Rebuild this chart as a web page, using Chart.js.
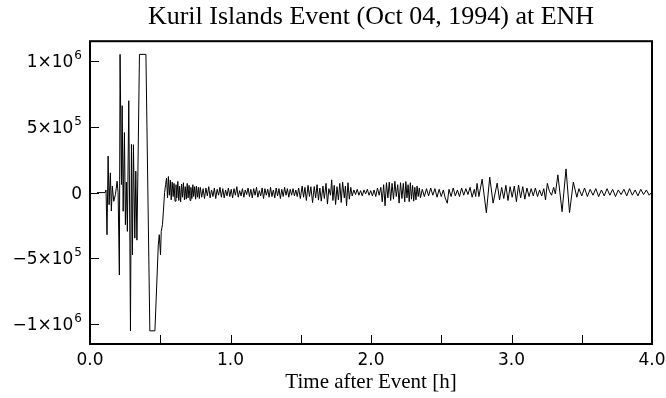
<!DOCTYPE html>
<html>
<head>
<meta charset="utf-8">
<script src="https://cdn.jsdelivr.net/npm/chart.js@4.4.1/dist/chart.umd.min.js"></script>
<style>
  html, body { margin: 0; padding: 0; background: #fff; }
  #seismo { display: block; }
</style>
</head>
<body>
<canvas id="seismo" width="666" height="398"></canvas>
<script>
// time after event in hours (peaks / troughs)
const hours = [
    0.050, 0.107, 0.114, 0.121, 0.129, 0.136, 0.145, 0.152, 0.159, 0.169,
    0.181, 0.193, 0.200, 0.209, 0.214, 0.224, 0.229, 0.236, 0.245, 0.252,
    0.259, 0.266, 0.276, 0.284, 0.288, 0.295, 0.302, 0.309, 0.319, 0.326,
    0.334, 0.341, 0.352, 0.398, 0.426, 0.462, 0.486, 0.493, 0.502, 0.507,
    0.516, 0.531, 0.538,
    0.545, 0.552, 0.558, 0.565, 0.572, 0.578, 0.585, 0.592, 0.598, 0.605,
    0.612, 0.618, 0.625, 0.632, 0.638, 0.645, 0.652, 0.658, 0.665, 0.672,
    0.678, 0.685, 0.692, 0.698, 0.705, 0.712, 0.718, 0.725, 0.732, 0.738,
    0.745, 0.752, 0.758, 0.765, 0.772, 0.778,
    0.785, 0.795, 0.805, 0.815, 0.825, 0.835, 0.845, 0.855, 0.865, 0.875,
    0.885, 0.895, 0.905, 0.915, 0.925, 0.935, 0.945, 0.955, 0.965, 0.975,
    0.985, 0.995, 1.005, 1.015, 1.025, 1.035, 1.045, 1.055, 1.065, 1.075,
    1.085, 1.095, 1.105, 1.115, 1.125, 1.135, 1.145, 1.155, 1.165, 1.175,
    1.185, 1.195, 1.205, 1.215, 1.225, 1.235, 1.245, 1.255, 1.265, 1.275,
    1.285, 1.295, 1.305, 1.315, 1.325, 1.335, 1.345, 1.355, 1.365, 1.375,
    1.385, 1.395, 1.405, 1.415,
    1.425, 1.435, 1.445, 1.455, 1.465, 1.475, 1.485, 1.497, 1.510, 1.520,
    1.530, 1.540, 1.552, 1.562, 1.572, 1.584, 1.596, 1.606, 1.616, 1.626,
    1.636, 1.646, 1.658, 1.668, 1.680, 1.690, 1.700, 1.712, 1.720,
    1.729, 1.738, 1.748, 1.758, 1.768, 1.778, 1.788, 1.798, 1.810, 1.818,
    1.826, 1.836, 1.846, 1.856,
    1.866, 1.878, 1.890, 1.902, 1.914, 1.926, 1.938, 1.950, 1.962, 1.974,
    1.986, 1.998, 2.010, 2.022, 2.034, 2.046, 2.058, 2.070,
    2.080, 2.090, 2.100, 2.110, 2.120, 2.130, 2.140, 2.150, 2.160, 2.170,
    2.180, 2.190, 2.200, 2.210, 2.220, 2.230,
    2.240, 2.248, 2.256, 2.264, 2.272, 2.280, 2.288, 2.296, 2.304, 2.312,
    2.320, 2.328, 2.336, 2.344, 2.352,
    2.365, 2.380, 2.395, 2.410, 2.425, 2.440, 2.455, 2.470, 2.485, 2.500,
    2.515, 2.528, 2.543, 2.555, 2.570, 2.585, 2.600, 2.615, 2.630, 2.645,
    2.660, 2.675, 2.690, 2.705, 2.720, 2.735, 2.745, 2.755, 2.768,
    2.791, 2.821, 2.845, 2.869, 2.898, 2.915, 2.930, 2.945, 2.960, 2.975,
    2.990, 3.005, 3.020, 3.035, 3.050, 3.065, 3.080, 3.095, 3.110, 3.125,
    3.140, 3.155, 3.170, 3.185, 3.200, 3.215, 3.230, 3.242,
    3.255, 3.270, 3.285, 3.300, 3.312, 3.330, 3.360, 3.388, 3.413, 3.440,
    3.465,
    3.480, 3.500, 3.520, 3.540, 3.560, 3.580, 3.600, 3.620, 3.640, 3.660,
    3.680, 3.700, 3.720, 3.740, 3.760, 3.780, 3.800, 3.820, 3.840, 3.860,
    3.880, 3.900, 3.920, 3.940, 3.960, 3.980, 4.000
];

// ground motion counts, in thousands (the trace is clipped near +-1.05e6)
const countsK = [
    0, 0, 20, -320, 278, -92, 150, -140, 49, -66,
    -15, 87, 0, -626, 1050, 61, 660, -142, 456, -244,
    80, -295, 698, -397, -1050, 366, -473, 364, -346, 163,
    -361, 163, 1050, 1050, -1050, -1050, -397, -320, -473, -295,
    -244, 0, 60,
    110, -40, 122, -20, 95, -55, 80, -30, 70, -65,
    60, -40, 85, -60, 50, -70, 65, -35, 75, -55,
    45, -50, 70, -40, 55, -60, 40, -45, 60, -30,
    45, -50, 50, -35, 40, -45,
    40, -35, 30, -45, 35, -25, 45, -40, 20, -30,
    35, -45, 25, -20, 40, -35, 30, -40, 20, -25,
    35, -30, 25, -40, 30, -20, 45, -35, 15, -25,
    30, -35, 20, -15, 35, -30, 25, -40, 30, -20,
    40, -35, 15, -25, 35, -45, 30, -20, 25, -35,
    40, -30, 20, -40, 35, -25, 30, -45, 25, -30,
    40, -20, 30, -35,
    25, -20, 30, -25, 20, -30, 35, -45, 50, -35,
    40, -60, 55, -30, 45, -76, 46, -40, 60, -57,
    35, -65, 50, -45, 70, -87, 30, -20, 97,
    -60, 55, -90, 45, -55, 70, -75, 80, -40, 50,
    -100, 75, -50, 40,
    -25, 20, -15, 25, -20, 15, -25, 20, -10, 25,
    -20, 15, -25, 20, -30, 35, -20, 40,
    -70, 60, -100, 75, -40, 80, -60, 70, -50, 86,
    -30, 60, -80, 75, -45, 70,
    -70, 84, -40, 60, -69, 75, -50, 55, -65, 40,
    -55, 50, -30, 35, -40,
    25, -30, 30, -25, 35, -20, 30, -35, 25, -30,
    20, -40, -81, 25, -30, 35, -25, 20, -30, 35,
    -20, 30, -15, 40, -35, 25, -30, 70, -30,
    102, -153, 118, -80, 72, -56, 40, -45, 55, -60,
    45, -35, 50, -69, 58, -40, 45, -50, 35, -30,
    30, -25, 35, -30, 20, -25, 30, -56,
    70, 10, -20, 40, -10, 135, -145, 180, -152, 80,
    -35,
    30, -25, 35, -30, 25, -20, 30, -30, 20, -25,
    30, -20, 25, -30, 20, -15, 25, -25, 30, -20,
    20, -25, 25, -15, 20, -20, 5
];

const xTickValues = [0, 0.5, 1, 1.5, 2, 2.5, 3, 3.5, 4];
const yTickValues = [-1000, -500, 0, 500, 1000];
// y labels are mantissa "x10" plus a raised exponent
const yTickBase = ['\u22121\u00d710', '\u22125\u00d710', '0', '5\u00d710', '1\u00d710'];
const yTickExp = ['6', '5', '', '5', '6'];

const points = hours.map((h, i) => ({ x: h, y: countsK[i] }));

const labelFont = 'DejaVu Sans';

// frame around the plot, inward tick marks and the y labels with exponents
const frameTicks = {
    id: 'frameTicks',
    afterDraw(chart) {
        const { ctx, chartArea: a, scales } = chart;
        ctx.save();
        ctx.strokeStyle = '#000';
        ctx.lineWidth = 1;
        ctx.beginPath();
        scales.x.ticks.forEach(t => {
            const px = Math.round(scales.x.getPixelForValue(t.value)) + 0.5;
            ctx.moveTo(px, a.bottom);
            ctx.lineTo(px, a.bottom - 9);
        });
        scales.y.ticks.forEach(t => {
            const py = Math.round(scales.y.getPixelForValue(t.value)) + 0.5;
            ctx.moveTo(a.left, py);
            ctx.lineTo(a.left + 9, py);
        });
        ctx.stroke();
        ctx.lineWidth = 2;
        ctx.strokeRect(a.left, a.top, a.right - a.left, a.bottom - a.top);

        ctx.fillStyle = '#000';
        ctx.textBaseline = 'alphabetic';
        ctx.textAlign = 'left';
        const right = a.left - 8;
        yTickValues.forEach((v, i) => {
            const py = scales.y.getPixelForValue(v);
            ctx.font = '12px ' + labelFont;
            const ew = yTickExp[i] ? ctx.measureText(yTickExp[i]).width + 1 : 0;
            ctx.font = '17px ' + labelFont;
            const bw = ctx.measureText(yTickBase[i]).width;
            ctx.fillText(yTickBase[i], right - ew - bw, py + 6);
            if (yTickExp[i]) {
                ctx.font = '12px ' + labelFont;
                ctx.fillText(yTickExp[i], right - ew + 1, py - 2);
            }
        });
        ctx.restore();
    }
};

Chart.defaults.font.family = labelFont;
Chart.defaults.color = '#000';

const ctx = document.getElementById('seismo').getContext('2d');
new Chart(ctx, {
    type: 'line',
    data: {
        datasets: [{
            data: points,
            borderColor: '#000',
            borderWidth: 1,
            pointRadius: 0,
            tension: 0,
            fill: false
        }]
    },
    options: {
        responsive: false,
        animation: false,
        layout: { padding: { left: 0, right: 14, top: 0, bottom: 0 } },
        plugins: {
            legend: { display: false },
            tooltip: { enabled: false },
            title: {
                display: true,
                fullSize: false,
                text: 'Kuril Islands Event (Oct 04, 1994) at ENH',
                font: { family: 'Liberation Serif', size: 26, weight: 'normal' },
                padding: { top: 2, bottom: 8 }
            }
        },
        scales: {
            x: {
                type: 'linear',
                min: 0,
                max: 4,
                afterBuildTicks: scale => { scale.ticks = xTickValues.map(v => ({ value: v })); },
                afterFit: scale => {
                    scale.height = 54;
                    scale.paddingLeft = 0;
                    scale.paddingRight = 0;
                },
                grid: { display: false },
                border: { display: false },
                ticks: {
                    padding: -2,
                    maxRotation: 0,
                    autoSkip: false,
                    font: { size: 17 },
                    callback: v => (v % 1 === 0 ? v.toFixed(1) : '')
                },
                title: {
                    display: true,
                    text: 'Time after Event [h]',
                    font: { family: 'Liberation Serif', size: 21 },
                    padding: { top: 0, bottom: 3 }
                }
            },
            y: {
                type: 'linear',
                min: -1150,
                max: 1150,
                afterBuildTicks: scale => { scale.ticks = yTickValues.map(v => ({ value: v })); },
                afterFit: scale => { scale.width = 90; },
                grid: { display: false },
                border: { display: false },
                ticks: { display: false }
            }
        }
    },
    plugins: [frameTicks]
});
</script>
</body>
</html>
